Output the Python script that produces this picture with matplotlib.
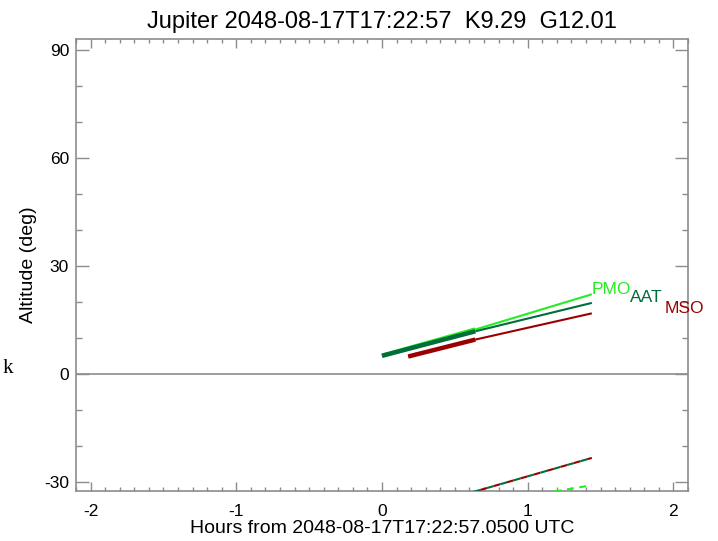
import matplotlib
matplotlib.use("Agg")
import matplotlib.pyplot as plt
from matplotlib.ticker import MultipleLocator

plt.rcParams['font.family'] = ['Liberation Sans', 'DejaVu Sans']
plt.rcParams['lines.scale_dashes'] = False
plt.rcParams['axes.unicode_minus'] = False

title = "Jupiter 2048-08-17T17:22:57  K9.29  G12.01"
xlabel = "Hours from 2048-08-17T17:22:57.0500 UTC"
ylabel = "Altitude (deg)"

# Observatory altitude tracks (hours, degrees)
pmo_t = [0.0, 0.64, 1.44]
pmo_alt = [5.0, 12.3, 22.1]
aat_t = [0.0, 0.64, 1.44]
aat_alt = [5.0, 11.8, 19.7]
mso_t = [0.18, 0.64, 1.44]
mso_alt = [4.8, 9.5, 16.8]

# thick-segment (observable) portion ends at index 1
thick_end = 1

# dashed tracks
dash_t = [0.4, 1.44]
dash_alt = [-35.5, -23.4]
pmo_dash_t = [1.1, 1.44]
pmo_dash_alt = [-33.3, -31.0]

label_names = ["PMO", "AAT", "MSO"]
label_x = [1.44, 1.70, 1.94]
label_y = [22.1, 19.9, 16.8]

c_pmo = "#22ee22"
c_aat = "#006d3a"
c_mso = "#9a0000"
frame = "#8c8c8c"

W, H = 718, 541
fig = plt.figure(figsize=(W / 100, H / 100), dpi=100)
ax = fig.add_axes([76 / W, 1 - 491 / H, (688 - 76) / W, (491 - 39.3) / H])
ax.set_xlim(-2.1, 2.1)
ax.set_ylim(-32.6, 93.0)

ax.axhline(0, color=frame, lw=1.2, zorder=1)

for t, a, c in [(pmo_t, pmo_alt, c_pmo), (aat_t, aat_alt, c_aat), (mso_t, mso_alt, c_mso)]:
    ax.plot(t, a, color=c, lw=1.5, solid_capstyle='butt', zorder=3)
    ax.plot(t[:thick_end + 1], a[:thick_end + 1], color=c, lw=3.2, solid_capstyle='butt', zorder=4)

ax.plot(dash_t, dash_alt, color=c_mso, lw=1.5, zorder=3, linestyle=(0, (5, 5)))
ax.plot(dash_t, dash_alt, color=c_aat, lw=1.5, zorder=3, linestyle=(5, (5, 5)))
ax.plot(pmo_dash_t, pmo_dash_alt, color=c_pmo, lw=1.5, zorder=3, linestyle=(0, (5, 4)))

for n, x, y, c in zip(label_names, label_x, label_y, [c_pmo, c_aat, c_mso]):
    ax.text(x, y, n, color=c, fontsize=12.5, ha='left', va='baseline', clip_on=False)

for s in ax.spines.values():
    s.set_color(frame)
    s.set_linewidth(1.2)

ax.xaxis.set_major_locator(MultipleLocator(1))
ax.xaxis.set_minor_locator(MultipleLocator(0.1))
ax.yaxis.set_major_locator(MultipleLocator(30))
ax.yaxis.set_minor_locator(MultipleLocator(10))
ax.tick_params(axis='x', which='major', direction='in', length=6.5, top=True, color=frame, width=1, labelsize=12.5, pad=9)
ax.tick_params(axis='x', which='minor', direction='in', length=3, top=True, color=frame, width=1)
ax.tick_params(axis='y', which='major', direction='in', length=9.5, right=True, color=frame, width=1, labelsize=12.5, pad=5)
ax.tick_params(axis='y', which='minor', direction='in', length=4.5, right=True, color=frame, width=1)

ax.set_title(title, fontsize=17, pad=8)
ax.set_xlabel(xlabel, fontsize=14, labelpad=1)
ax.set_ylabel(ylabel, fontsize=14, labelpad=5)

fig.text(3 / W, 1 - 373 / H, "k", family=['Liberation Serif', 'DejaVu Serif'], fontsize=15, ha='left', va='baseline')

fig.savefig("out.png", dpi=100)
